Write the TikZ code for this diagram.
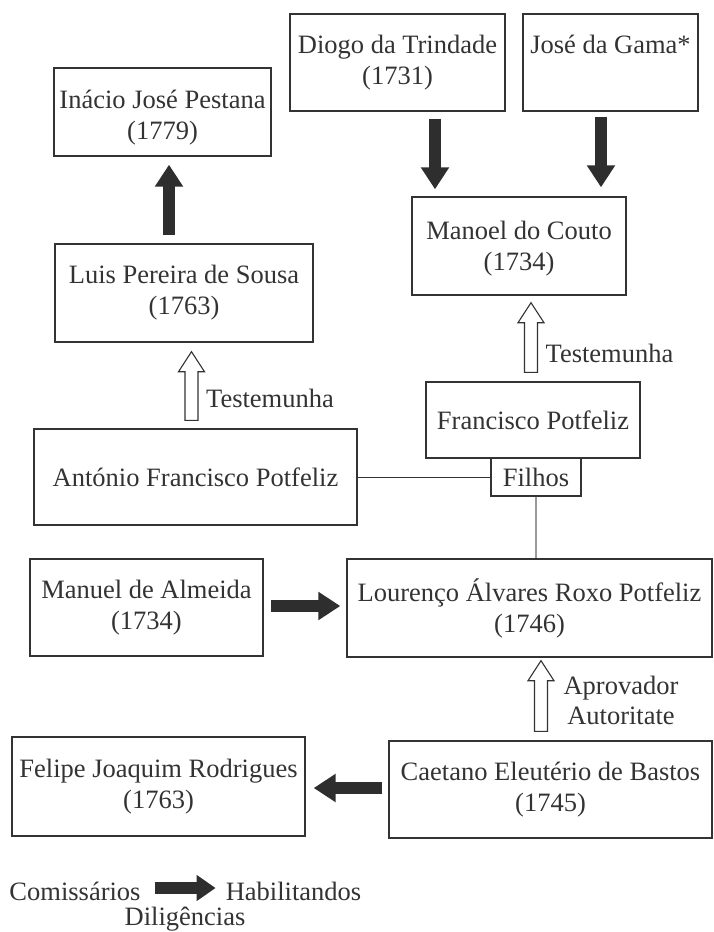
\documentclass[tikz,border=0pt]{standalone}
\usepackage{fontspec}
\setmainfont{Liberation Serif}
\usetikzlibrary{arrows.meta,calc}
\definecolor{ink}{HTML}{333333}
\definecolor{arrc}{HTML}{2E2E2E}
\definecolor{lightln}{HTML}{9A9A9A}
\newcommand\fs{\fontsize{26.5}{31}\selectfont}
\tikzset{
  box/.style={draw=ink, line width=1.4pt, inner sep=0pt, align=center, font=\fs, text=ink},
  lbl/.style={inner sep=0pt, align=center, font=\fs, text=ink},
  blk/.style={arrc, line width=12pt, -{Triangle[length=22pt,width=27pt]}},
  openarr/.style={draw=ink, fill=white, line width=1.1pt, line join=miter},
}
\newcommand\openarrow[2]{%
  \draw[openarr] let \p1=(#1), \p2=(#2) in
    (\x1-6.5pt,\y1) -- (\x1+6.5pt,\y1) -- (\x1+6.5pt,\y2-20pt) -- (\x1+13pt,\y2-20pt)
    -- (\x1,\y2) -- (\x1-13pt,\y2-20pt) -- (\x1-6.5pt,\y2-20pt) -- cycle;}
\begin{document}
\begin{tikzpicture}[x=1pt,y=-1pt]
\useasboundingbox (0,0) rectangle (713,932);
% boxes
\node[box, minimum width=217pt, minimum height=88pt] (inacio) at (162.5,112) {};
\node[lbl] (inaciot) at (162.5,118) {Inácio José Pestana\\(1779)};
\node[box, minimum width=215pt, minimum height=97pt] (diogo) at (397.5,62.5) {Diogo da Trindade\\(1731)};
\node[box, minimum width=175pt, minimum height=97pt] (jose) at (610.5,62.5) {José da Gama*\\\phantom{(1731)}};
\node[box, minimum width=214pt, minimum height=98pt] (manoel) at (519,246) {};
\node[lbl] (manoelt) at (519,249) {Manoel do Couto\\(1734)};
\node[box, minimum width=258pt, minimum height=98pt] (luis) at (184,293) {Luis Pereira de Sousa\\(1763)};
\node[box, minimum width=214pt, minimum height=76pt] (francisco) at (533,420) {Francisco Potfeliz};
\node[box, minimum width=90pt, minimum height=38pt] (filhos) at (536,477) {Filhos};
\node[box, minimum width=323pt, minimum height=96pt] (antonio) at (195.5,477) {António Francisco Potfeliz};
\node[box, minimum width=233pt, minimum height=97pt] (manuel) at (146.5,607.5) {Manuel de Almeida\\(1734)};
\node[box, minimum width=365pt, minimum height=98pt] (lourenco) at (529.5,608) {Lourenço Álvares Roxo Potfeliz\\(1746)};
\node[box, minimum width=293pt, minimum height=99pt] (felipe) at (158.5,786.5) {Felipe Joaquim Rodrigues\\(1763)};
\node[box, minimum width=323pt, minimum height=97pt] (caetano) at (550.5,789.5) {Caetano Eleutério de Bastos\\(1745)};
% labels
\node[lbl] (test1) at (270,398) {Testemunha};
\node[lbl] (test2) at (609.5,353) {Testemunha};
\node[lbl, font=\fontsize{26.5}{30}\selectfont] (aprov) at (621,700) {Aprovador\\Autoritate};
% legend
\node[lbl] (comiss) at (75,891) {Comissários};
\node[lbl] (habil) at (293.5,891) {Habilitandos};
\node[lbl] (dilig) at (185,919) {Diligências};
% black arrows
\draw[blk, shorten <=8pt, shorten >=8pt] ([xshift=-15pt]luis.north) -- ([xshift=-15pt]luis.north |- inacio.south);
\draw[blk, shorten <=7pt, shorten >=7pt] ([xshift=37.5pt]diogo.south) -- ([xshift=37.5pt]diogo.south |- manoel.north);
\draw[blk, shorten <=5pt, shorten >=9pt] ([xshift=-9.5pt]jose.south) -- ([xshift=-9.5pt]jose.south |- manoel.north);
\draw[blk, shorten <=7pt, shorten >=6pt] ([yshift=1.5pt]manuel.east) -- ([yshift=1.5pt]manuel.east -| lourenco.west);
\draw[blk, shorten <=6pt, shorten >=8pt] ([yshift=1.5pt]caetano.west) -- ([yshift=1.5pt]caetano.west -| felipe.east);
\draw[arrc, line width=12pt, -{Triangle[length=19pt,width=25pt]}, shorten <=14pt, shorten >=10pt] ([yshift=3pt]comiss.east) -- ([yshift=3pt]habil.west);
% open arrows
\openarrow{[xshift=-4pt,yshift=8pt]antonio.north}{[xshift=-4pt,yshift=-9pt]luis.south}
\openarrow{[xshift=-2pt,yshift=9pt]francisco.north}{[xshift=-2pt,yshift=-7pt]manoel.south}
\openarrow{[xshift=-9.5pt,yshift=9pt]caetano.north}{[xshift=-9.5pt,yshift=-3pt]lourenco.south}
% family lines
\draw[ink, line width=1pt] (antonio.east) -- (filhos.west);
\draw[lightln, line width=1.3pt] (filhos.south) -- (filhos.south |- lourenco.north);
\end{tikzpicture}
\end{document}
